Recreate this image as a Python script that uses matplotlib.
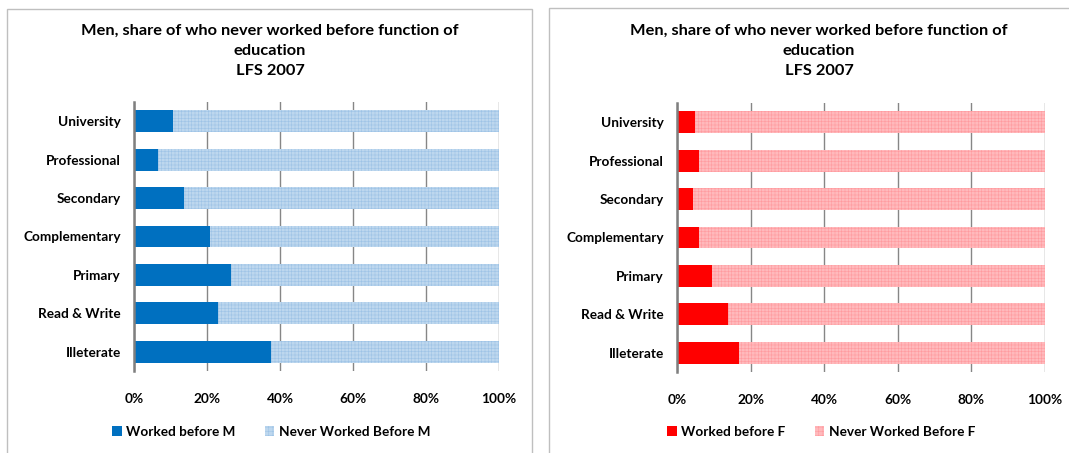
# coding: utf-8
'''
Two stacked horizontal bar charts, worked before / never worked by education
'''

import matplotlib.pyplot as plt
from matplotlib.patches import Rectangle, Patch

plt.rcParams['font.family'] = ['Lato', 'DejaVu Sans']
plt.rcParams['hatch.linewidth'] = 0.4

# data
levels = ['University', 'Professional', 'Secondary', 'Complementary',
          'Primary', 'Read & Write', 'Illeterate']
workedM = [10.6, 6.5, 13.6, 20.8, 26.5, 22.9, 37.4]
workedF = [4.9, 6.1, 4.3, 6.1, 9.4, 13.9, 16.9]
neverM = [100 - v for v in workedM]
neverF = [100 - v for v in workedF]
xticks = [0, 20, 40, 60, 80, 100]
title = 'Men, share of who never worked before function of\neducation\nLFS 2007'

W, H = 1069, 453
fig = plt.figure(figsize=(W / 100, H / 100), dpi=100)

# panel borders
fig.add_artist(Rectangle((7 / W, -0.05), 525 / W, 1.05 - 9 / H, transform=fig.transFigure,
                         fill=False, edgecolor='#BFBFBF', linewidth=1))
fig.add_artist(Rectangle((549 / W, -0.05), 0.6, 1.05 - 8 / H, transform=fig.transFigure,
                         fill=False, edgecolor='#BFBFBF', linewidth=1))


def panel(rect, worked, never, dark, light, hatchcol, lab1, lab2, title_x, leg_x):
	ax = fig.add_axes(rect)
	pos = list(range(len(levels)))
	ax.barh(pos, worked, height=0.57, color=dark, linewidth=0, zorder=3)
	ax.barh(pos, never, left=worked, height=0.57, facecolor=light,
	        edgecolor=hatchcol, hatch='+++++', linewidth=0, zorder=3)
	ax.set_ylim(len(levels) - 0.5, -0.5)
	ax.set_xlim(0, 100)
	ax.set_yticks(pos)
	ax.set_yticklabels(levels, fontsize=9.8, fontweight='bold')
	ax.set_xticks(xticks)
	ax.set_xticklabels([f'{t}%' for t in xticks], fontsize=9.8, fontweight='bold')
	ax.tick_params(length=0)
	ax.tick_params(axis='x', pad=16)
	ax.tick_params(axis='y', pad=9.5)
	ax.xaxis.grid(True, color='#868686', linewidth=1, zorder=0)
	for s in ['top', 'right', 'bottom']:
		ax.spines[s].set_visible(False)
	ax.spines['left'].set_color('#7F7F7F')
	ax.spines['left'].set_linewidth(1.8)
	ax.spines['left'].set_zorder(4)
	fig.text(title_x / W, 1 - 24 / H, title, ha='center', va='top', fontsize=11.8,
	         fontweight='bold', linespacing=1.55)
	handles = [Patch(facecolor=dark, linewidth=0),
	           Patch(facecolor=light, edgecolor=hatchcol, hatch='++++', linewidth=0)]
	fig.legend(handles, [lab1, lab2], loc='center', bbox_to_anchor=(leg_x / W, 1 - 432 / H),
	           ncol=2, frameon=False, prop={'weight': 'bold', 'size': 9.8},
	           handlelength=0.7, handleheight=0.7, handletextpad=0.3, columnspacing=2.2)
	return ax


panel([134 / W, 82 / H, 365 / W, 269 / H], workedM, neverM, '#0070C0', '#BDD7EE', '#9DC3E6',
      'Worked before M', 'Never Worked Before M', 270, 271)
panel([677 / W, 81 / H, 368 / W, 269 / H], workedF, neverF, '#FF0000', '#FFB9BC', '#FF9A9E',
      'Worked before F', 'Never Worked Before F', 819, 821)

plt.savefig('out.png', dpi=100)
